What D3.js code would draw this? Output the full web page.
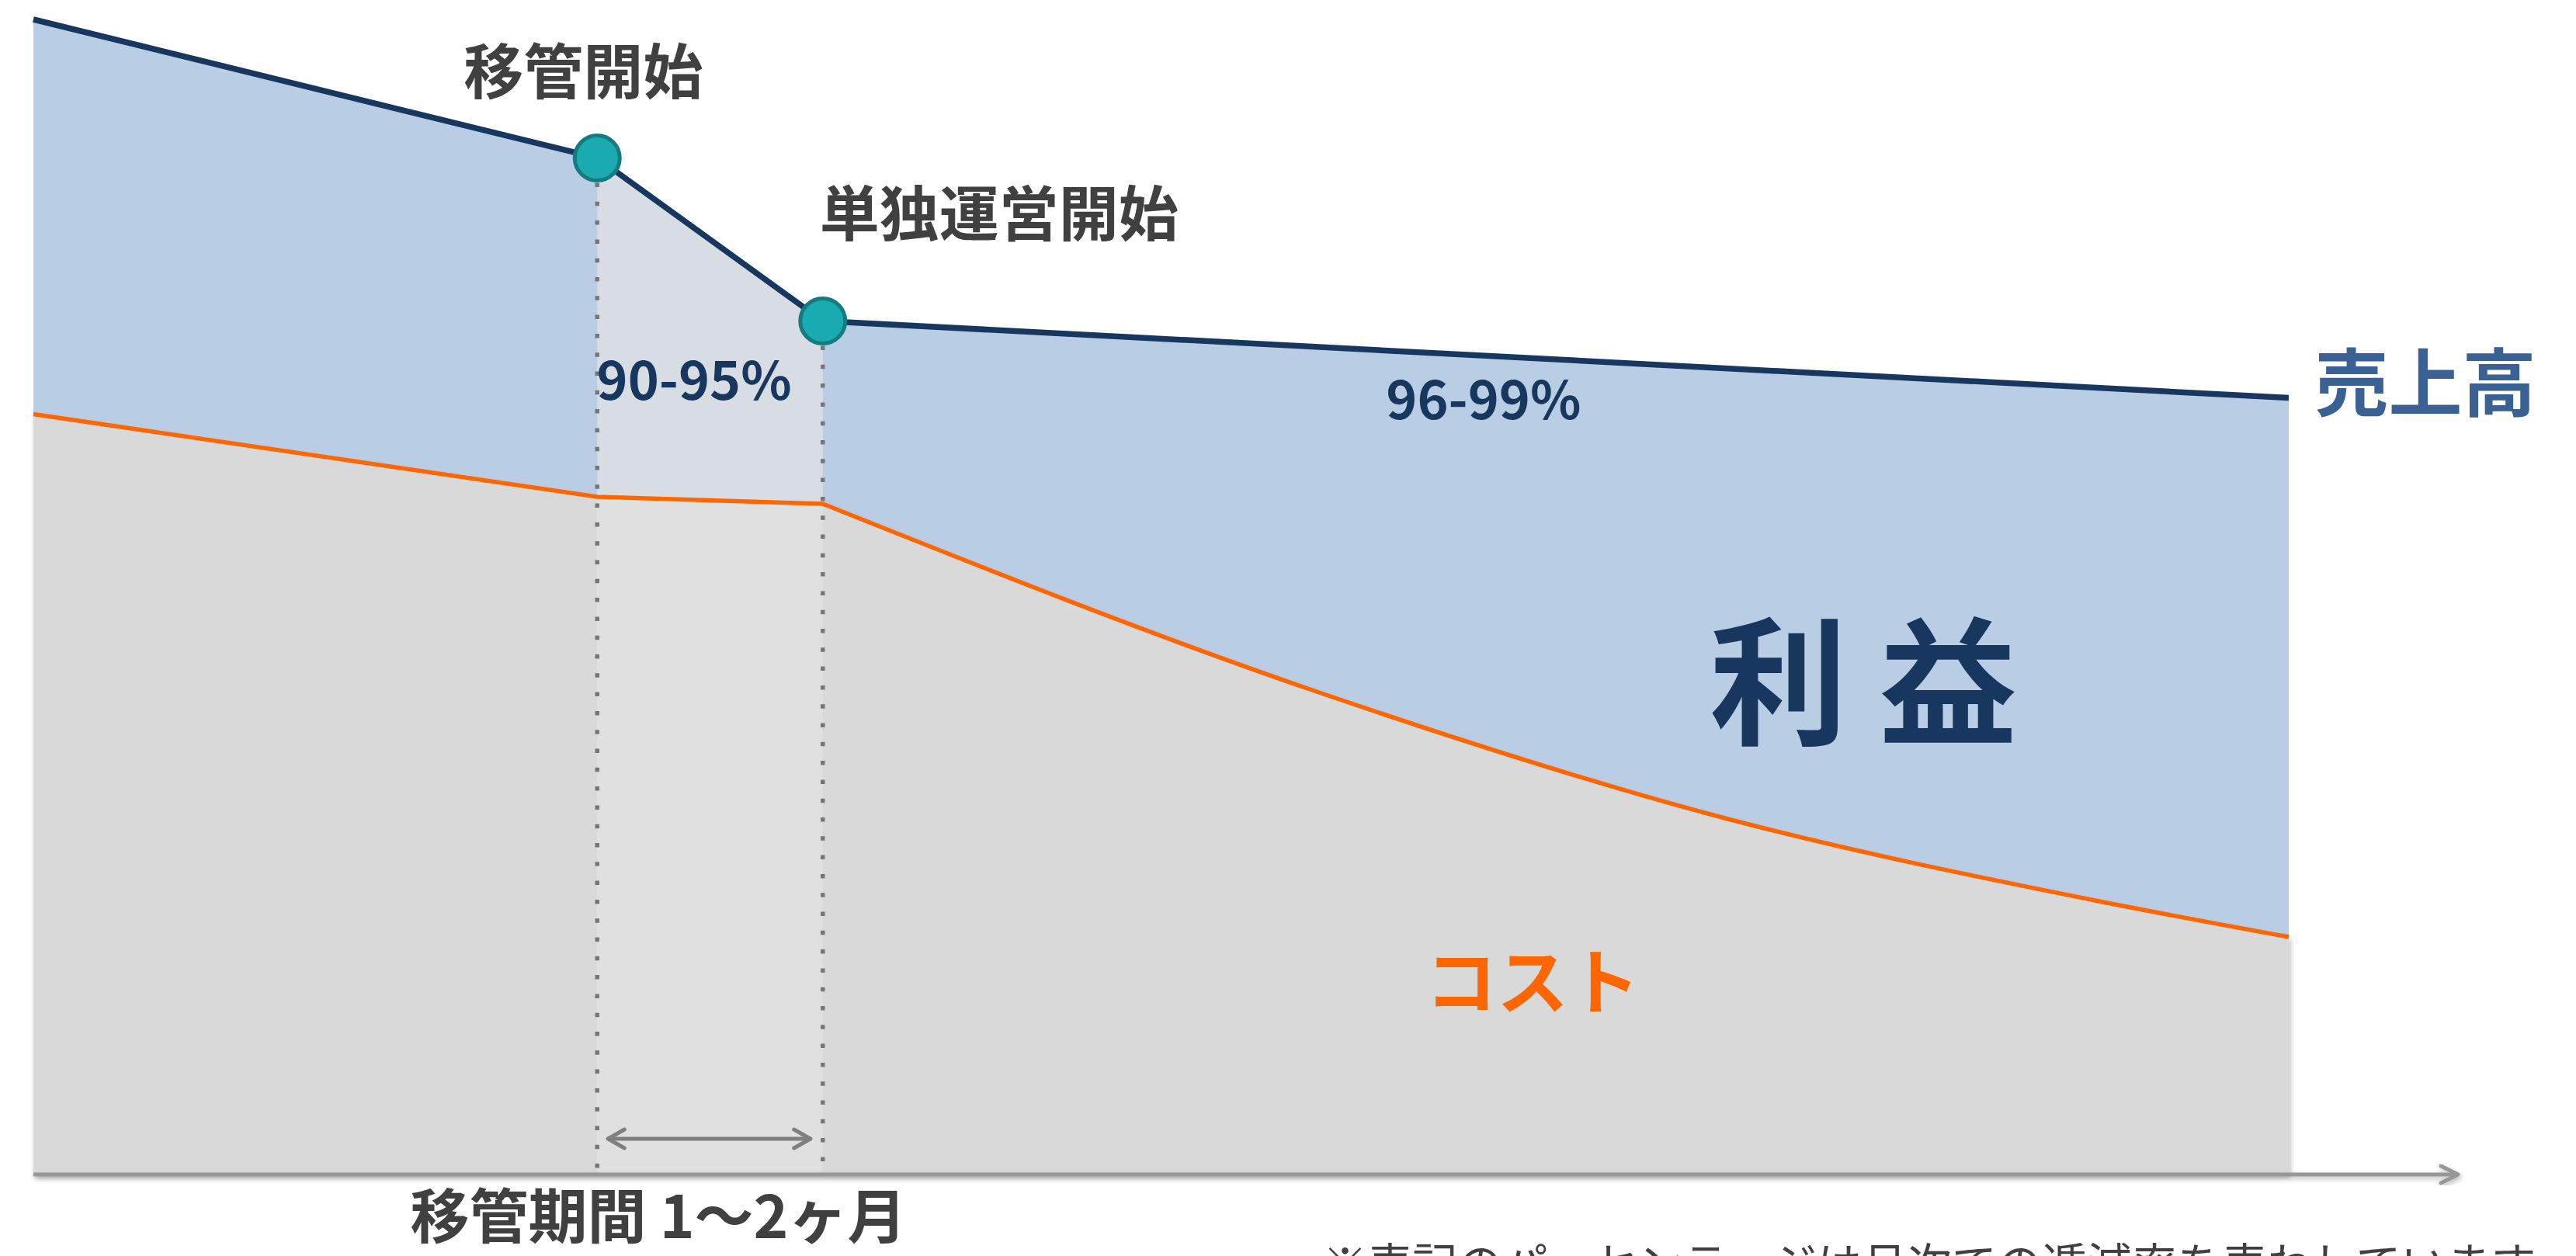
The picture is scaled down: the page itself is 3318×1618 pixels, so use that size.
<!DOCTYPE html>
<html lang="ja">
<head>
<meta charset="utf-8">
<title>売上高・コスト・利益の推移</title>
<script src="https://cdn.jsdelivr.net/npm/d3@7"></script>
<style>
  html, body { margin: 0; padding: 0; background: #ffffff; }
  svg { display: block; }
  text { font-family: "Noto Sans CJK JP", "Noto Sans", sans-serif; }
</style>
</head>
<body>
<div id="chart"></div>
<script>
// Timeline positions (arbitrary period units) of the revenue nodes
const revenuePeriods = [0, 25, 35, 100];
// Revenue level at each node
const revenueValues = [99.2, 87.3, 73.3, 66.7];

// Timeline positions and levels of the cost curve
const costPeriods = [0, 25, 35, 57, 75, 91.5, 100];
const costValues  = [65.3, 58.2, 57.6, 41.4, 30.6, 23.5, 20.4];

// Milestones on the revenue line
const milestoneLabels  = ["移管開始", "単独運営開始"];
const milestonePeriods = [25, 35];

// Monthly decline rates per phase
const rateLabels  = ["90-95%", "96-99%"];
const ratePeriods = [29.3, 64.3];

// Annotation texts
const seriesLabels = { revenue: "売上高", profit: "利 益", cost: "コスト" };
const periodLabel  = "移管期間 1〜2ヶ月";
const footnote     = "※表記のパーセンテージは月次での逓減率を表わしています";

const W = 3318, H = 1618;
const svg = d3.select("#chart").append("svg")
  .attr("width", W).attr("height", H)
  .attr("viewBox", `0 0 ${W} ${H}`);

const defs = svg.append("defs");
const shadow = defs.append("filter").attr("id", "soft-shadow")
  .attr("x", "-5%").attr("y", "-5%").attr("width", "110%").attr("height", "115%");
shadow.append("feDropShadow")
  .attr("dx", 2).attr("dy", 3).attr("stdDeviation", 3)
  .attr("flood-color", "#000").attr("flood-opacity", 0.28);

const x = d3.scaleLinear().domain([0, 100]).range([43, 2948]);
const y = d3.scaleLinear().domain([0, 100]).range([1513, 13]);

const revenue = revenuePeriods.map((t, i) => ({ t, v: revenueValues[i] }));
const cost = costPeriods.map((t, i) => ({ t, v: costValues[i] }));

// Profit band: everything under the revenue line (cost area is drawn over it)
const areaLinear = d3.area().x(d => x(d.t)).y0(y(0)).y1(d => y(d.v));
svg.append("path").datum(revenue)
  .attr("d", areaLinear)
  .attr("fill", "#b9cde5");

// Cost area: straight up to the hand-over, smooth decline afterwards
const splitT = milestonePeriods[1];
const costHead = cost.filter(d => d.t <= splitT);
const costTail = cost.filter(d => d.t >= splitT);
const areaCurve = d3.area().curve(d3.curveMonotoneX)
  .x(d => x(d.t)).y0(y(0)).y1(d => y(d.v));

const costGroup = svg.append("g").attr("filter", "url(#soft-shadow)");
costGroup.append("path").datum(costHead).attr("d", areaLinear).attr("fill", "#d9d9d9");
costGroup.append("path").datum(costTail).attr("d", areaCurve).attr("fill", "#d9d9d9")
  .attr("stroke", "#d9d9d9").attr("stroke-width", 0.5);

// Transition period highlight
const transition = revenue.filter(d => d.t >= milestonePeriods[0] && d.t <= milestonePeriods[1]);
svg.append("path").datum(transition)
  .attr("d", areaLinear)
  .attr("fill", "#e3e3e3")
  .attr("fill-opacity", 0.74);

// Cost line
const lineLinear = d3.line().x(d => x(d.t)).y(d => y(d.v));
const lineCurve = d3.line().curve(d3.curveMonotoneX).x(d => x(d.t)).y(d => y(d.v));
const costPath = lineLinear(costHead) + lineCurve(costTail).replace(/^M[^LC]*/, "");
svg.append("path")
  .attr("d", costPath)
  .attr("fill", "none")
  .attr("stroke", "#ff6600")
  .attr("stroke-width", 5.5)
  .attr("stroke-linejoin", "round");

// Revenue line
svg.append("path").datum(revenue)
  .attr("d", lineLinear)
  .attr("fill", "none")
  .attr("stroke", "#17375e")
  .attr("stroke-width", 7.5)
  .attr("stroke-linejoin", "round");

// Dotted guides from the milestones down to the axis
milestonePeriods.forEach(t => {
  const v = revenue.find(d => d.t === t).v;
  svg.append("line")
    .attr("x1", x(t)).attr("x2", x(t))
    .attr("y1", y(v) + 32).attr("y2", y(0))
    .attr("stroke", "#767676")
    .attr("stroke-width", 5.5)
    .attr("stroke-dasharray", "5.5 18.8");
});

// Milestone markers
milestonePeriods.forEach(t => {
  const v = revenue.find(d => d.t === t).v;
  svg.append("circle")
    .attr("cx", x(t)).attr("cy", y(v)).attr("r", 29)
    .attr("fill", "#1aabb1")
    .attr("stroke", "#147b80")
    .attr("stroke-width", 5);
});

// Double-headed arrow spanning the transition period
const arrowY = 1467;
const ax1 = x(milestonePeriods[0]) + 14, ax2 = x(milestonePeriods[1]) - 16;
const arrowG = svg.append("g")
  .attr("fill", "none").attr("stroke", "#7f7f7f")
  .attr("stroke-width", 5).attr("stroke-linecap", "round").attr("stroke-linejoin", "round");
arrowG.append("line").attr("x1", ax1).attr("x2", ax2).attr("y1", arrowY).attr("y2", arrowY);
arrowG.append("polyline").attr("points", `${ax1 + 21},${arrowY - 12} ${ax1},${arrowY} ${ax1 + 21},${arrowY + 12}`);
arrowG.append("polyline").attr("points", `${ax2 - 21},${arrowY - 12} ${ax2},${arrowY} ${ax2 - 21},${arrowY + 12}`);

// Time axis with arrow head
const axisEnd = 3166;
const axisG = svg.append("g").attr("filter", "url(#soft-shadow)")
  .attr("fill", "none").attr("stroke", "#979797")
  .attr("stroke-width", 5).attr("stroke-linecap", "round").attr("stroke-linejoin", "round");
axisG.append("line").attr("x1", x(0)).attr("x2", axisEnd).attr("y1", y(0)).attr("y2", y(0))
  .attr("stroke-linecap", "butt");
axisG.append("polyline")
  .attr("points", `${axisEnd - 22},${y(0) - 11} ${axisEnd},${y(0)} ${axisEnd - 22},${y(0) + 11}`);

// Milestone labels
const milestoneText = [
  { dx: -18, dy: -83 },
  { dx: 227, dy: -110 }
];
milestonePeriods.forEach((t, i) => {
  const v = revenue.find(d => d.t === t).v;
  svg.append("text")
    .attr("x", x(t) + milestoneText[i].dx)
    .attr("y", y(v) + milestoneText[i].dy)
    .attr("text-anchor", "middle")
    .attr("font-size", 77).attr("font-weight", 700)
    .attr("fill", "#404040")
    .text(milestoneLabels[i]);
});

// Decline rate labels
const rateBaselines = [515, 540];
ratePeriods.forEach((t, i) => {
  svg.append("text")
    .attr("x", x(t)).attr("y", rateBaselines[i])
    .attr("text-anchor", "middle")
    .attr("font-size", 68).attr("font-weight", 700)
    .attr("fill", "#17375e")
    .text(rateLabels[i]);
});

// Series labels
svg.append("text")
  .attr("x", 3124).attr("y", 529)
  .attr("text-anchor", "middle")
  .attr("font-size", 95).attr("font-weight", 700)
  .attr("fill", "#3a6194")
  .text(seriesLabels.revenue);

svg.append("text")
  .attr("x", 2400).attr("y", 946)
  .attr("text-anchor", "middle")
  .attr("font-size", 178).attr("font-weight", 700)
  .attr("fill", "#17375e")
  .attr("xml:space", "preserve")
  .style("white-space", "pre")
  .text(seriesLabels.profit);

svg.append("text")
  .attr("x", 1974).attr("y", 1299)
  .attr("text-anchor", "middle")
  .attr("font-size", 92).attr("font-weight", 700)
  .attr("fill", "#ff6600")
  .text(seriesLabels.cost);

// Period caption under the axis
svg.append("text")
  .attr("x", 848).attr("y", 1595)
  .attr("text-anchor", "middle")
  .attr("font-size", 76).attr("font-weight", 700)
  .attr("fill", "#404040")
  .text(periodLabel);

// Footnote along the bottom edge
svg.append("text")
  .attr("x", 2485).attr("y", 1650)
  .attr("text-anchor", "middle")
  .attr("font-size", 58).attr("font-weight", 400)
  .attr("fill", "#404040")
  .text(footnote);
</script>
</body>
</html>
